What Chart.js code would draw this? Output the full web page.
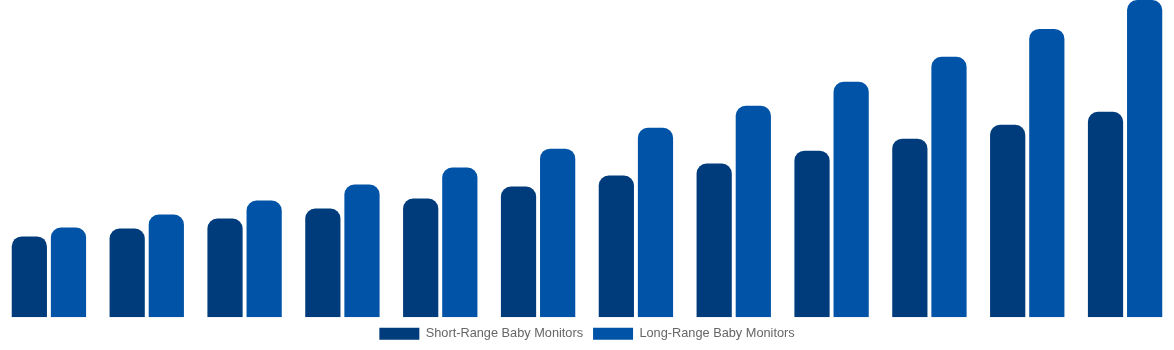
<!DOCTYPE html>
<html>
<head>
<meta charset="utf-8">
<script src="https://cdn.jsdelivr.net/npm/chart.js@4"></script>
<style>
    html, body { margin: 0; padding: 0; background: #fff; }
    #wrap { width: 1174px; height: 350px; }
</style>
</head>
<body>
<div id="wrap"><canvas id="myChart"></canvas></div>
<script>
const categories = ['1', '2', '3', '4', '5', '6', '7', '8', '9', '10', '11', '12'];
const shortRange = [81, 89, 99, 109, 119, 131, 142, 154, 167, 179, 193, 206];
const longRange = [90, 103, 117, 133, 150, 169, 190, 212, 236, 261, 289, 318];

const ctx = document.getElementById('myChart');
new Chart(ctx, {
    type: 'bar',
    data: {
        labels: categories,
        datasets: [{
            label: 'Short-Range Baby Monitors',
            data: shortRange,
            backgroundColor: '#003c7b',
            borderRadius: 10
        }, {
            label: 'Long-Range Baby Monitors',
            data: longRange,
            backgroundColor: '#0053a6',
            borderRadius: 10
        }]
    },
    options: {
        responsive: true,
        maintainAspectRatio: false,
        animation: false,
        layout: { padding: 0 },
        datasets: {
            bar: { barPercentage: 0.9, categoryPercentage: 0.8 }
        },
        plugins: {
            legend: {
                position: 'bottom',
                labels: {
                    boxWidth: 40,
                    boxHeight: 12,
                    padding: 10,
                    color: '#666',
                    font: { family: 'Liberation Sans, Arial, sans-serif', size: 12.75 }
                }
            },
            tooltip: { enabled: false }
        },
        scales: {
            x: { display: false },
            y: { display: false, beginAtZero: true, min: 0, max: 318 }
        }
    }
});
</script>
</body>
</html>
